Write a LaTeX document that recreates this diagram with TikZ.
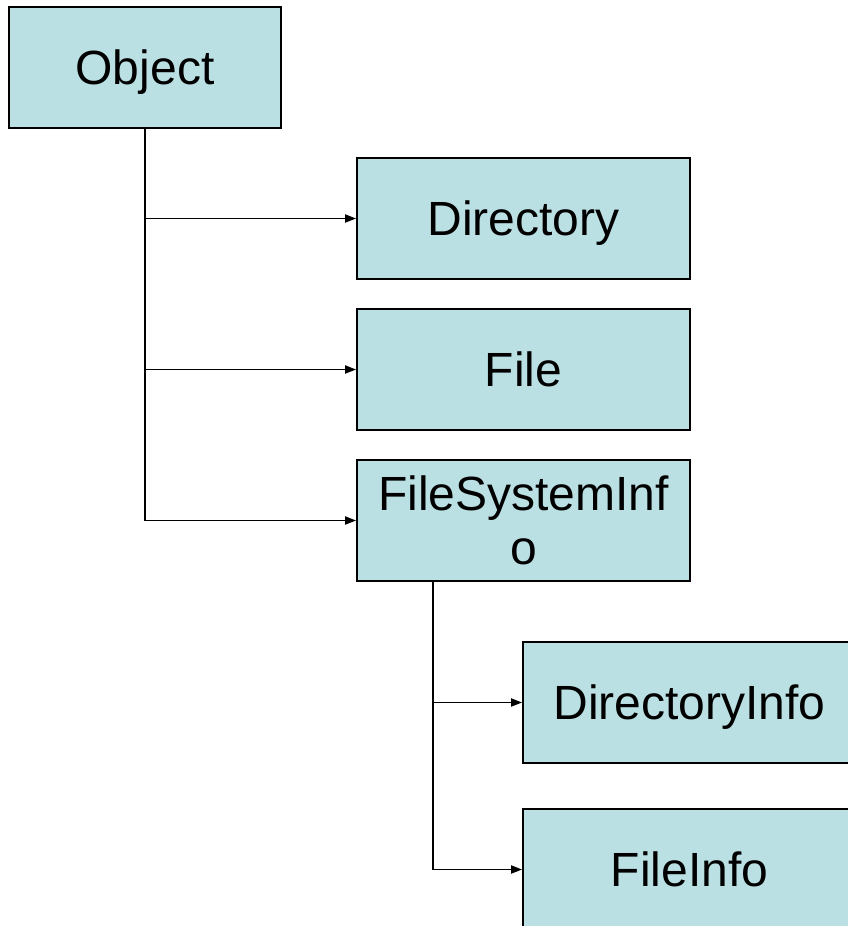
\documentclass[tikz,border=0pt]{standalone}
\usepackage{fontspec}
\setmainfont{Liberation Sans}
\usetikzlibrary{arrows.meta}
\definecolor{boxfill}{RGB}{187,224,227}
\tikzset{
  classbox/.style={draw=black, line width=1.8pt, fill=boxfill, inner sep=0pt,
    minimum width=333pt, minimum height=121pt, align=center,
    font=\fontsize{48}{54}\selectfont},
  oneline/.style={text height=34pt, text depth=1pt},
  link/.style={line width=1.8pt, -{Triangle[length=11pt,width=8pt]}},
  trunk/.style={line width=1.8pt}
}
\begin{document}
\begin{tikzpicture}[x=1pt,y=-1pt]
  \useasboundingbox (0,0) rectangle (848,926);
  \clip (0,0) rectangle (848,926);
  \fill[white] (0,0) rectangle (848,926);

  % classes
  \node[classbox, oneline, minimum width=272pt] (obj) at (145,67.5) {Object};
  \node[classbox, oneline] (dir) at (523.5,218.5) {Directory};
  \node[classbox, oneline] (file) at (523.5,369.5) {File};
  \node[classbox] (fsi) at (523.5,520.5) {FileSystemInf\\o};
  \node[classbox, oneline] (dinfo) at (689.5,702.5) {DirectoryInfo};
  \node[classbox, oneline] (finfo) at (689.5,869.5) {FileInfo};

  % inheritance from Object
  \draw[trunk] (obj.south) -- (obj.south |- fsi.west);
  \draw[link] (obj.south |- dir.west) -- (dir.west);
  \draw[link] (obj.south |- file.west) -- (file.west);
  \draw[link] (obj.south |- fsi.west) -- (fsi.west);

  % inheritance from FileSystemInfo
  \coordinate (fsitrunk) at ([xshift=-90.5pt]fsi.south);
  \draw[trunk] (fsitrunk) -- (fsitrunk |- finfo.west);
  \draw[link] (fsitrunk |- dinfo.west) -- (dinfo.west);
  \draw[link] (fsitrunk |- finfo.west) -- (finfo.west);
\end{tikzpicture}
\end{document}
